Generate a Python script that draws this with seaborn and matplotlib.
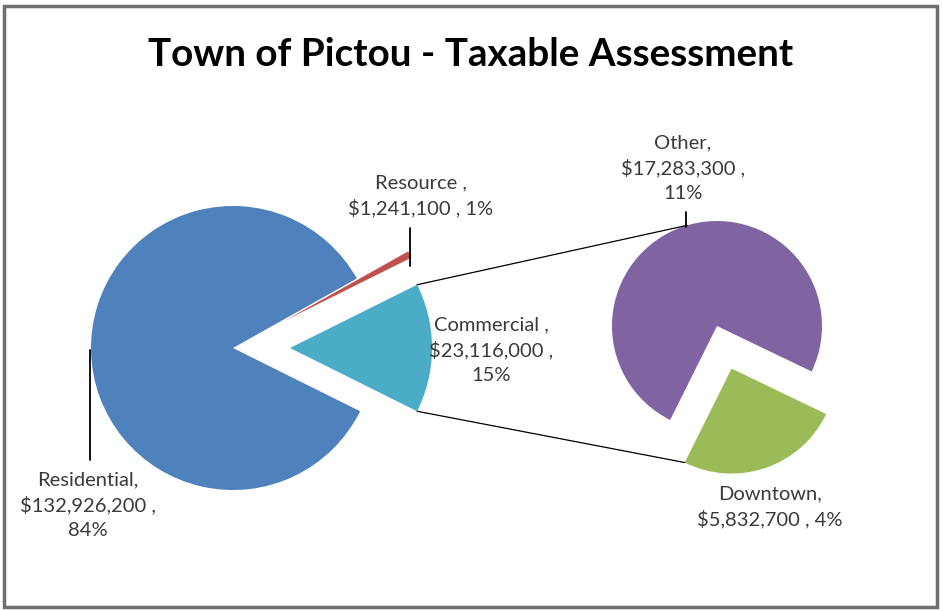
import numpy as np
import matplotlib
matplotlib.use("Agg")
import matplotlib.pyplot as plt
import seaborn as sns

# ---- data ----
main_labels = ["Commercial", "Resource", "Residential"]
main_values = [23116000, 1241100, 132926200]
main_pct = ["15%", "1%", "84%"]
sub_labels = ["Downtown", "Other"]
sub_values = [5832700, 17283300]
sub_pct = ["4%", "11%"]
title = "Town of Pictou - Taxable Assessment"

main_colors = ["#4BACC6", "#C0504D", "#4F81BD"]
sub_colors = ["#9BBB59", "#8064A2"]

sns.set_theme(style="white")
plt.rcParams['font.family'] = ['Lato', 'DejaVu Sans']

W, H = 943, 611
fig = plt.figure(figsize=(W / 100, H / 100), dpi=100)
ax = fig.add_axes([0, 0, 1, 1])

def Y(y):
    return H - y

# main pie
c1 = (233, Y(348))
r1 = 142
ex1 = 57
tot = sum(main_values)
com_deg = main_values[0] / tot * 360
start1 = -com_deg / 2
ax.pie(main_values, colors=main_colors, radius=r1, center=c1,
       startangle=start1, counterclock=True,
       explode=[ex1, 58, 0.0], frame=True,
       wedgeprops=dict(linewidth=0))

# secondary pie
c2 = (717, Y(326))
r2 = 105
ex2 = 45
sub_tot = sum(sub_values)
start2 = -116.5
ax.pie(sub_values, colors=sub_colors, radius=r2, center=c2,
       startangle=start2, counterclock=True,
       explode=[ex2, 0.0], frame=True,
       wedgeprops=dict(linewidth=0))
ax.set_xlim(0, W)
ax.set_ylim(0, H)
ax.set_aspect("equal")
ax.axis("off")

# connector lines
cc = (c1[0] + ex1, c1[1])
a_top = np.deg2rad(com_deg / 2)
p_top = (cc[0] + r1 * np.cos(a_top), cc[1] + r1 * np.sin(a_top))
p_bot = (cc[0] + r1 * np.cos(-a_top), cc[1] + r1 * np.sin(-a_top))
q_top = (c2[0] + r2 * np.cos(np.deg2rad(106.5)), c2[1] + r2 * np.sin(np.deg2rad(106.5)))
dt_mid = np.deg2rad(start2 + sub_values[0] / sub_tot * 180)
dc = (c2[0] + ex2 * np.cos(dt_mid), c2[1] + ex2 * np.sin(dt_mid))
q_bot = (dc[0] + r2 * np.cos(np.deg2rad(start2)), dc[1] + r2 * np.sin(np.deg2rad(start2)))
ax.plot([p_top[0], q_top[0]], [p_top[1], q_top[1]], color="black", lw=0.9)
ax.plot([p_bot[0], q_bot[0]], [p_bot[1], q_bot[1]], color="black", lw=0.9)

# leader lines
ax.plot([410, 410], [Y(266), Y(228)], color="black", lw=1.3)
ax.plot([686, 686], [Y(227), Y(212)], color="black", lw=1.3)
ax.plot([90, 90], [Y(350), Y(460)], color="black", lw=1.3)

def fmt(v):
    return "${:,}".format(v)

tkw = dict(ha="center", va="center", fontsize=14.5, color="#3a3a3a", linespacing=1.5)
ax.text(421, Y(196), f"{main_labels[1]} ,\n{fmt(main_values[1])} , {main_pct[1]}", **tkw)
ax.text(683, Y(168), f"{sub_labels[1]},\n{fmt(sub_values[1])} ,\n{sub_pct[1]}", **tkw)
ax.text(491, Y(350), f"{main_labels[0]} ,\n{fmt(main_values[0])} ,\n{main_pct[0]}", **tkw)
ax.text(88, Y(505), f"{main_labels[2]},\n{fmt(main_values[2])} ,\n{main_pct[2]}", **tkw)
ax.text(770, Y(507), f"{sub_labels[0]},\n{fmt(sub_values[0])} , {sub_pct[0]}", **tkw)

ax.text(471, Y(55), title, ha="center", va="center", fontsize=27.8,
        fontweight="bold", color="black")

# frame
fig.patches.append(plt.Rectangle((4 / W, 4 / H), 1 - 10 / W, 1 - 10 / H,
                                 transform=fig.transFigure, fill=False,
                                 edgecolor="#6e6e6e", lw=2.5))

fig.savefig("out.png", dpi=100)
